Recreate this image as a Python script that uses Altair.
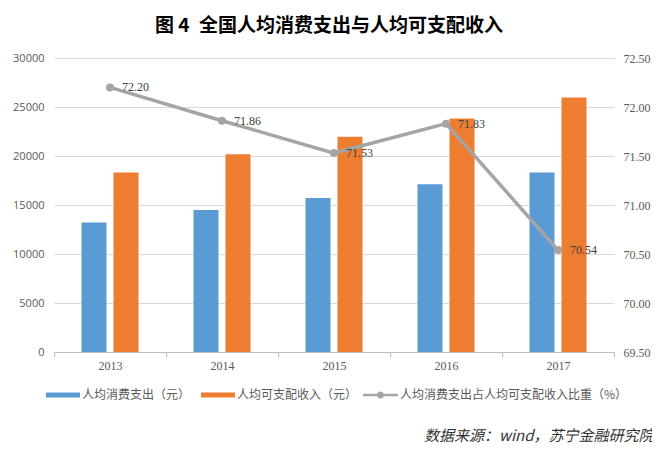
import altair as alt
import pandas as pd

years = ["2013", "2014", "2015", "2016", "2017"]
spend = [13220, 14491, 15712, 17111, 18322]
income = [18311, 20167, 21966, 23821, 25974]
ratio = [72.20, 71.86, 71.53, 71.83, 70.54]

s_spend = "人均消费支出（元）"
s_income = "人均可支配收入（元）"
s_ratio = "人均消费支出占人均可支配收入比重（%）"

left_ticks = [0, 5000, 10000, 15000, 20000, 25000, 30000]
right_ticks = [69.5, 70.0, 70.5, 71.0, 71.5, 72.0, 72.5]

bars_df = pd.DataFrame({
    "year": years * 2,
    "series": [s_spend] * len(years) + [s_income] * len(years),
    "value": spend + income,
})
line_df = pd.DataFrame({"year": years, "ratio": ratio, "series": [s_ratio] * len(years)})

CJK = "Noto Sans CJK SC"
SERIF = "Liberation Serif"

x_axis = alt.Axis(
    labelAngle=0, labelFont=SERIF, labelFontSize=12, labelColor="#595959",
    domainColor="#bfbfbf", tickColor="#bfbfbf", tickSize=5, tickBand="extent",
    labelPadding=3,
    title="数据来源：wind，苏宁金融研究院",
    titleFont=CJK, titleFontSize=15, titleFontStyle="italic", titleFontWeight="normal",
    titleColor="#333333", titleAlign="right", titleBaseline="middle",
    titleX=599, titleY=83,
)

x_enc = alt.X("year:N", sort=years, scale=alt.Scale(paddingInner=0, paddingOuter=0), axis=x_axis)

rect_path = "M-1,-0.15L1,-0.15L1,0.15L-1,0.15Z"
line_dot_path = ("M-1,-0.07L1,-0.07L1,0.07L-1,0.07Z "
                 "M0.2,0A0.2,0.2 0 1,1 -0.2,0A0.2,0.2 0 1,1 0.2,0Z")

bars = alt.Chart(bars_df).mark_bar().encode(
    x=x_enc,
    xOffset=alt.XOffset("series:N", sort=[s_spend, s_income],
                        scale=alt.Scale(paddingInner=0.21875, paddingOuter=0.859)),
    y=alt.Y("value:Q", scale=alt.Scale(domain=[0, 30000], nice=False),
            axis=alt.Axis(values=left_ticks, format="d", labelFont="Open Sans",
                          labelFontSize=11, labelColor="#595959", domain=False,
                          ticks=False, labelPadding=10, gridColor="#d9d9d9",
                          title=None)),
    color=alt.Color("series:N", sort=[s_spend, s_income],
                    scale=alt.Scale(domain=[s_spend, s_income], range=["#5b9bd5", "#ed7d31"]),
                    legend=alt.Legend(title=None, orient="none", legendX=-8, legendY=320,
                                      direction="horizontal", symbolType=rect_path,
                                      symbolSize=1156, symbolStrokeWidth=0,
                                      labelFont=CJK, labelFontSize=12, labelColor="#595959",
                                      labelOffset=2, columnPadding=10, padding=0,
                                      labelLimit=400)),
)

y_right = alt.Y("ratio:Q", scale=alt.Scale(domain=[69.5, 72.5], nice=False, zero=False),
                axis=alt.Axis(orient="right", values=right_ticks, format=".2f",
                              labelFont=SERIF, labelFontSize=12, labelColor="#595959",
                              domain=False, ticks=False, grid=False, labelPadding=9,
                              title=None))

line = alt.Chart(line_df).mark_line(color="#a5a5a5", strokeWidth=3.5).encode(
    x=x_enc, y=y_right)

points = alt.Chart(line_df).mark_point(filled=True, size=64, opacity=1, shape="circle").encode(
    x=x_enc, y=y_right,
    color=alt.Color("series:N",
                    scale=alt.Scale(domain=[s_ratio], range=["#a5a5a5"]),
                    legend=alt.Legend(title=None, orient="none", legendX=309, legendY=319.5,
                                      symbolType=line_dot_path, symbolSize=1225,
                                      symbolStrokeWidth=0, symbolOpacity=1,
                                      labelFont=CJK, labelFontSize=12, labelColor="#595959",
                                      labelOffset=2, padding=0, labelLimit=400)),
)

labels = alt.Chart(line_df).mark_text(
    align="left", baseline="middle", dx=12, font=SERIF, fontSize=12, color="#404040"
).encode(x=x_enc, y=y_right, text=alt.Text("ratio:Q", format=".2f"))

right = alt.layer(line, points, labels)

chart = alt.layer(bars, right).resolve_scale(y="independent", color="independent").properties(
    width=560, height=294,
    autosize=alt.AutoSizeParams(type="none"),
    padding={"left": 46, "top": 50, "right": 38, "bottom": 92},
    background="white",
    title=alt.TitleParams("图 4\u2002全国人均消费支出与人均可支配收入", font=CJK, fontSize=19,
                          fontWeight="bold", color="#000000", anchor="middle",
                          frame="group", offset=16, dx=-5),
).configure_view(stroke=None)

chart.save("out.html", embed_options={"renderer": "svg", "actions": False})
